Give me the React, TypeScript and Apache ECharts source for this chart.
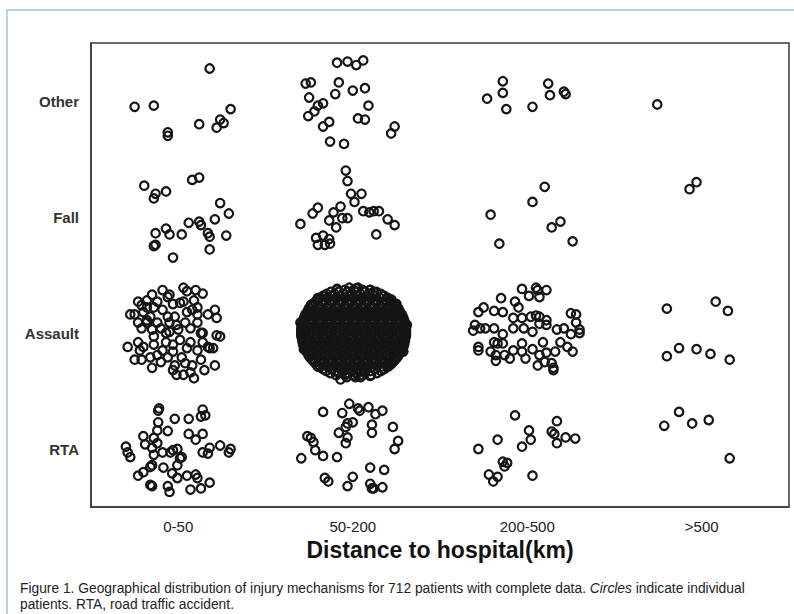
import React, { useEffect, useRef } from "react";
import * as echarts from "echarts";

const distanceBands = ["0-50", "50-200", "200-500", ">500"];
const mechanisms = ["RTA", "Assault", "Fall", "Other"];
const axisTitle = "Distance to hospital(km)";
const captionStart = "Figure 1. Geographical distribution of injury mechanisms for 712 patients with complete data. ";
const captionItalic = "Circles";
const captionEnd = " indicate individual";
const captionLine2 = "patients. RTA, road traffic accident.";

// [distance position (jittered), mechanism position (jittered)]
const otherPoints: [number, number][] = [
  [0.18, 3.28], [-0.25, 2.95], [-0.14, 2.96], [-0.06, 2.73], [-0.06, 2.7], [0.12, 2.8], [0.24, 2.84], [0.26, 2.81], [0.22, 2.77], [0.3, 2.93],
  [0.91, 3.33], [0.97, 3.34], [1.02, 3.31], [1.06, 3.35], [0.73, 3.15], [0.76, 3.16], [0.92, 3.16], [0.9, 3.06], [1.0, 3.09], [1.07, 3.11],
  [0.75, 3.03], [0.83, 2.98], [0.8, 2.96], [0.78, 2.91], [0.745, 2.87], [1.09, 2.96], [0.865, 2.82], [0.83, 2.78], [1.03, 2.85], [1.07, 2.84],
  [1.24, 2.78], [1.22, 2.72], [0.87, 2.65], [0.95, 2.63],
  [1.86, 3.17], [1.86, 3.07], [1.77, 3.02], [1.88, 2.93], [2.03, 2.95], [2.12, 3.15], [2.13, 3.05], [2.21, 3.08], [2.22, 3.06],
  [2.745, 2.97],
];

const fallPoints: [number, number][] = [
  [-0.195, 2.27], [-0.13, 2.2], [-0.14, 2.16], [-0.07, 2.22], [0.08, 2.32], [0.12, 2.34], [0.24, 2.12], [0.29, 2.03], [0.21, 1.98], [0.06, 1.95],
  [0.12, 1.96], [0.13, 1.93], [0.17, 1.86], [0.18, 1.83], [0.275, 1.84], [-0.13, 1.86], [-0.07, 1.9], [-0.05, 1.85], [0.02, 1.85], [-0.13, 1.76],
  [-0.14, 1.75], [0.18, 1.72], [-0.03, 1.65],
  [0.96, 2.4], [0.97, 2.31], [0.99, 2.2], [1.05, 2.2], [1.01, 2.13], [0.8, 2.08], [0.77, 2.03], [0.89, 2.04], [0.93, 2.09], [0.7, 1.94],
  [0.865, 1.97], [0.94, 1.99], [0.97, 1.99], [0.905, 1.91], [1.06, 2.05], [1.095, 2.04], [1.12, 2.05], [1.15, 2.05], [1.2, 1.98], [1.24, 1.93],
  [1.135, 1.85], [0.79, 1.82], [0.83, 1.84], [0.865, 1.81], [0.8, 1.76], [0.84, 1.76], [0.87, 1.77],
  [2.1, 2.26], [2.03, 2.13], [1.79, 2.02], [2.19, 1.96], [2.14, 1.91], [2.26, 1.79], [1.84, 1.77],
  [2.97, 2.3], [2.93, 2.24],
];

const assaultPoints: [number, number][] = [
  // 0-50
  [-0.09, 1.37], [0.03, 1.39], [0.05, 1.36], [0.1, 1.37], [0.14, 1.34], [-0.15, 1.33], [-0.06, 1.31], [-0.18, 1.28], [-0.12, 1.27], [-0.23, 1.27],
  [-0.21, 1.24], [-0.03, 1.25], [0.01, 1.26], [0.09, 1.28], [0.11, 1.22], [-0.275, 1.16], [-0.25, 1.16], [-0.2, 1.18], [-0.14, 1.22], [-0.09, 1.2],
  [-0.06, 1.14], [0.05, 1.18], [0.08, 1.2], [0.11, 1.16], [0.17, 1.16], [0.21, 1.2], [0.22, 1.13], [-0.23, 1.09], [-0.18, 1.11], [-0.12, 1.09],
  [-0.05, 1.09], [-0.01, 1.07], [0.04, 1.09], [0.11, 1.09], [-0.21, 1.04], [-0.15, 1.03], [-0.1, 1.04], [-0.05, 1.01], [0.0, 1.03], [0.07, 1.04],
  [0.13, 1.0], [0.22, 0.98], [0.24, 0.97], [-0.29, 0.88], [-0.23, 0.92], [-0.2, 0.88], [-0.14, 0.9], [-0.07, 0.92], [-0.03, 0.9], [-0.09, 0.85],
  [-0.03, 0.84], [0.05, 0.87], [0.11, 0.85], [0.14, 0.92], [0.17, 0.88], [0.2, 0.87], [-0.25, 0.77], [-0.21, 0.77], [-0.16, 0.79], [-0.12, 0.81],
  [-0.15, 0.7], [-0.06, 0.79], [0.02, 0.79], [0.04, 0.74], [0.08, 0.72], [-0.01, 0.64], [0.03, 0.64], [0.07, 0.66], [0.09, 0.61], [0.21, 0.72],
  [-0.05, 1.33], [-0.18, 1.22], [0.03, 1.27], [-0.16, 1.14], [-0.02, 1.14], [-0.18, 1.09], [-0.07, 1.0], [-0.14, 0.97], [0.01, 0.94], [0.07, 0.92],
  [0.18, 0.87], [-0.22, 0.85], [0.14, 1.0], [-0.1, 0.75], [-0.02, 0.72], [0.13, 0.77], [-0.03, 0.68], [0.15, 0.68],
  // 50-200, edge circles of the dense cluster
  [0.91, 1.38], [1.02, 1.385], [1.1, 1.37], [0.8, 1.3], [1.22, 1.29], [0.7, 1.09], [1.31, 1.07], [0.72, 0.86], [1.29, 0.84],
  [0.76, 1.24], [1.25, 1.25], [0.8, 0.71], [1.21, 0.72], [0.93, 0.6], [1.1, 0.63],
  // 200-500
  [1.97, 1.38], [2.05, 1.39], [2.06, 1.37], [2.11, 1.37], [2.01, 1.32], [2.07, 1.31], [1.85, 1.3], [1.93, 1.27], [1.95, 1.22], [1.75, 1.22],
  [1.81, 1.19], [1.86, 1.18], [1.72, 1.18], [1.92, 1.13], [1.97, 1.13], [2.02, 1.14], [2.05, 1.15], [2.07, 1.14], [2.11, 1.11], [2.25, 1.17],
  [2.28, 1.16], [2.07, 1.08], [2.11, 1.07], [2.28, 1.09], [1.7, 1.07], [1.73, 1.04], [1.76, 1.04], [1.81, 1.04], [1.69, 1.02], [1.92, 1.04],
  [1.98, 1.04], [2.03, 1.01], [2.17, 1.03], [2.21, 1.04], [2.3, 1.03], [2.25, 0.99], [2.3, 1.0], [1.86, 0.99], [1.81, 0.92], [1.83, 0.91],
  [1.86, 0.91], [1.97, 0.91], [2.09, 0.92], [2.19, 0.92], [1.72, 0.88], [1.72, 0.85], [1.79, 0.84], [1.82, 0.81], [1.87, 0.81], [1.92, 0.85],
  [1.97, 0.84], [2.03, 0.86], [2.07, 0.81], [2.11, 0.83], [2.16, 0.84], [2.23, 0.88], [2.26, 0.84], [1.82, 0.76], [1.9, 0.78], [1.99, 0.78],
  [2.06, 0.72], [2.1, 0.75], [2.14, 0.74], [2.15, 0.7], [2.15, 0.68],
  // >500
  [2.8, 1.21], [3.08, 1.27], [3.15, 1.19], [2.8, 0.8], [2.87, 0.87], [2.97, 0.86], [3.05, 0.82], [3.16, 0.77],
];

// 50-200 assault cluster (too dense to separate), read row by row: [mechanism position, distance positions]
const assaultDenseRows: [number, number[]][] = [
  [1.39, [0.98, 1.03]],
  [1.3725, [0.91, 0.955, 1.005, 1.055, 1.1]],
  [1.355, [0.875, 0.92, 0.97, 1.02, 1.07, 1.12, 1.135]],
  [1.3375, [0.85, 0.895, 0.945, 0.995, 1.045, 1.095, 1.16]],
  [1.32, [0.83, 0.88, 0.93, 0.98, 1.03, 1.08, 1.13, 1.18]],
  [1.3025, [0.81, 0.855, 0.905, 0.955, 1.005, 1.055, 1.105, 1.155, 1.2]],
  [1.285, [0.795, 0.84, 0.89, 0.94, 0.99, 1.04, 1.09, 1.14, 1.19, 1.215]],
  [1.2675, [0.785, 0.83, 0.88, 0.93, 0.98, 1.03, 1.08, 1.13, 1.18, 1.225]],
  [1.25, [0.77, 0.82, 0.87, 0.92, 0.97, 1.02, 1.07, 1.12, 1.17, 1.22, 1.24]],
  [1.2325, [0.76, 0.805, 0.855, 0.905, 0.955, 1.005, 1.055, 1.105, 1.155, 1.205, 1.25]],
  [1.215, [0.75, 0.8, 0.85, 0.9, 0.95, 1.0, 1.05, 1.1, 1.15, 1.2, 1.25, 1.26]],
  [1.1975, [0.745, 0.79, 0.84, 0.89, 0.94, 0.99, 1.04, 1.09, 1.14, 1.19, 1.24, 1.265]],
  [1.18, [0.74, 0.785, 0.835, 0.885, 0.935, 0.985, 1.035, 1.085, 1.135, 1.185, 1.235, 1.27]],
  [1.1625, [0.73, 0.78, 0.83, 0.88, 0.93, 0.98, 1.03, 1.08, 1.13, 1.18, 1.23, 1.28]],
  [1.145, [0.725, 0.77, 0.82, 0.87, 0.92, 0.97, 1.02, 1.07, 1.12, 1.17, 1.22, 1.27, 1.285]],
  [1.1275, [0.72, 0.765, 0.815, 0.865, 0.915, 0.965, 1.015, 1.065, 1.115, 1.165, 1.215, 1.265, 1.29]],
  [1.11, [0.716, 0.76, 0.81, 0.86, 0.91, 0.96, 1.01, 1.06, 1.11, 1.16, 1.21, 1.26, 1.294]],
  [1.0925, [0.712, 0.755, 0.805, 0.855, 0.905, 0.955, 1.005, 1.055, 1.105, 1.155, 1.205, 1.255, 1.298]],
  [1.075, [0.71, 0.76, 0.81, 0.86, 0.91, 0.96, 1.01, 1.06, 1.11, 1.16, 1.21, 1.26, 1.3]],
  [1.0575, [0.707, 0.735, 0.785, 0.835, 0.885, 0.935, 0.985, 1.035, 1.085, 1.135, 1.185, 1.235, 1.285, 1.303]],
  [1.04, [0.705, 0.755, 0.805, 0.855, 0.905, 0.955, 1.005, 1.055, 1.105, 1.155, 1.205, 1.255, 1.305]],
  [1.0225, [0.705, 0.73, 0.78, 0.83, 0.88, 0.93, 0.98, 1.03, 1.08, 1.13, 1.18, 1.23, 1.28, 1.305]],
  [1.005, [0.705, 0.755, 0.805, 0.855, 0.905, 0.955, 1.005, 1.055, 1.105, 1.155, 1.205, 1.255, 1.305]],
  [0.9875, [0.705, 0.73, 0.78, 0.83, 0.88, 0.93, 0.98, 1.03, 1.08, 1.13, 1.18, 1.23, 1.28, 1.305]],
  [0.97, [0.706, 0.755, 0.805, 0.855, 0.905, 0.955, 1.005, 1.055, 1.105, 1.155, 1.205, 1.255, 1.304]],
  [0.9525, [0.71, 0.735, 0.785, 0.835, 0.885, 0.935, 0.985, 1.035, 1.085, 1.135, 1.185, 1.235, 1.285, 1.3]],
  [0.935, [0.711, 0.76, 0.81, 0.86, 0.91, 0.96, 1.01, 1.06, 1.11, 1.16, 1.21, 1.26, 1.299]],
  [0.9175, [0.714, 0.74, 0.79, 0.84, 0.89, 0.94, 0.99, 1.04, 1.09, 1.14, 1.19, 1.24, 1.296]],
  [0.9, [0.716, 0.765, 0.815, 0.865, 0.915, 0.965, 1.015, 1.065, 1.115, 1.165, 1.215, 1.265, 1.294]],
  [0.8825, [0.72, 0.745, 0.795, 0.845, 0.895, 0.945, 0.995, 1.045, 1.095, 1.145, 1.195, 1.245, 1.29]],
  [0.865, [0.725, 0.775, 0.825, 0.875, 0.925, 0.975, 1.025, 1.075, 1.125, 1.175, 1.225, 1.275, 1.285]],
  [0.8475, [0.73, 0.755, 0.805, 0.855, 0.905, 0.955, 1.005, 1.055, 1.105, 1.155, 1.205, 1.255, 1.28]],
  [0.83, [0.74, 0.785, 0.835, 0.885, 0.935, 0.985, 1.035, 1.085, 1.135, 1.185, 1.235, 1.27]],
  [0.8125, [0.745, 0.765, 0.815, 0.865, 0.915, 0.965, 1.015, 1.065, 1.115, 1.165, 1.215, 1.265]],
  [0.795, [0.752, 0.795, 0.845, 0.895, 0.945, 0.995, 1.045, 1.095, 1.145, 1.195, 1.245, 1.258]],
  [0.7775, [0.762, 0.815, 0.865, 0.915, 0.965, 1.015, 1.065, 1.115, 1.165, 1.215, 1.248]],
  [0.76, [0.772, 0.82, 0.87, 0.92, 0.97, 1.02, 1.07, 1.12, 1.17, 1.22, 1.238]],
  [0.7425, [0.783, 0.835, 0.885, 0.935, 0.985, 1.035, 1.085, 1.135, 1.185, 1.227]],
  [0.725, [0.796, 0.845, 0.895, 0.945, 0.995, 1.045, 1.095, 1.145, 1.195, 1.214]],
  [0.7075, [0.811, 0.86, 0.91, 0.96, 1.01, 1.06, 1.11, 1.16, 1.199]],
  [0.69, [0.829, 0.88, 0.93, 0.98, 1.03, 1.08, 1.13, 1.181]],
  [0.6725, [0.848, 0.9, 0.95, 1.0, 1.05, 1.1, 1.162]],
  [0.655, [0.872, 0.92, 0.97, 1.02, 1.07, 1.138]],
  [0.6375, [0.905, 0.955, 1.005, 1.055, 1.105]],
  [0.62, [0.965, 1.015, 1.045]],
];

const rtaPoints: [number, number][] = [
  // 0-50
  [-0.11, 0.35], [-0.115, 0.33], [-0.02, 0.26], [0.06, 0.26], [0.13, 0.28], [0.14, 0.34], [0.155, 0.29], [-0.115, 0.23], [-0.12, 0.16], [-0.06, 0.155],
  [0.06, 0.13], [0.14, 0.13], [0.1, 0.08], [-0.2, 0.11], [-0.14, 0.095], [-0.19, 0.04], [-0.12, 0.05], [-0.3, 0.02], [-0.29, -0.03], [-0.275, -0.07],
  [-0.15, 0.01], [-0.14, -0.05], [-0.03, -0.01], [-0.005, 0.0], [0.01, -0.08], [0.02, -0.07], [-0.09, -0.03], [-0.045, -0.03], [0.14, -0.03], [0.17, -0.04],
  [0.18, 0.01], [0.24, 0.03], [0.3, 0.0], [0.29, -0.03], [-0.15, -0.14], [-0.16, -0.155], [-0.005, -0.14], [-0.085, -0.16], [-0.2, -0.2], [-0.23, -0.23],
  [-0.035, -0.21], [-0.005, -0.25], [0.05, -0.23], [0.1, -0.22], [0.11, -0.25], [-0.16, -0.31], [-0.15, -0.32], [-0.06, -0.32], [-0.05, -0.37], [0.07, -0.35],
  [0.13, -0.34], [0.18, -0.29],
  // 50-200
  [0.83, 0.32], [0.94, 0.31], [0.98, 0.39], [1.03, 0.35], [1.04, 0.33], [1.09, 0.36], [1.13, 0.3], [1.17, 0.33], [0.97, 0.22], [1.0, 0.23],
  [0.96, 0.19], [1.11, 0.21], [1.11, 0.14], [1.23, 0.19], [0.92, 0.14], [0.97, 0.1], [0.96, 0.05], [1.26, 0.07], [1.24, 0.0], [0.74, 0.11],
  [0.76, 0.095], [0.775, 0.06], [0.785, -0.01], [0.83, -0.06], [0.91, -0.07], [0.705, -0.08], [1.1, -0.16], [1.18, -0.18], [0.84, -0.25], [0.86, -0.28],
  [1.0, -0.24], [0.97, -0.32], [1.1, -0.3], [1.12, -0.34], [1.11, -0.34], [1.17, -0.33],
  // 200-500
  [1.93, 0.29], [2.17, 0.24], [2.01, 0.16], [2.14, 0.15], [2.155, 0.13], [2.22, 0.1], [2.275, 0.09], [2.02, 0.08], [1.83, 0.08], [2.17, 0.05],
  [1.97, 0.02], [1.72, 0.0], [1.86, -0.11], [1.885, -0.12], [1.87, -0.15], [1.78, -0.22], [1.83, -0.24], [1.805, -0.28], [2.03, -0.23],
  // >500
  [2.87, 0.32], [2.785, 0.2], [2.945, 0.22], [3.04, 0.25], [3.16, -0.08],
];

const FONT = '"Liberation Sans", Arial, Helvetica, sans-serif';
const INK = "#3a3a3a";

export default function App() {
  const ref = useRef<HTMLDivElement>(null);

  useEffect(() => {
    if (!ref.current) return;
    const chart = echarts.init(ref.current, undefined, { renderer: "svg" });

    const denseAssault: [number, number][] = assaultDenseRows.flatMap(([y, xs]) =>
      xs.map((x) => [x, y] as [number, number])
    );

    const marker = {
      type: "scatter" as const,
      xAxisIndex: 1,
      yAxisIndex: 1,
      symbol: "circle",
      symbolSize: 8.5,
      silent: true,
      itemStyle: { color: "rgba(0,0,0,0)", borderColor: "#151515", borderWidth: 2.2, opacity: 1 },
    };

    chart.setOption({
      animation: false,
      backgroundColor: "#ffffff",
      grid: {
        left: 91,
        top: 43,
        right: 5,
        bottom: 107,
        show: true,
        borderColor: INK,
        borderWidth: 1.5,
        backgroundColor: "transparent",
      },
      xAxis: [
        {
          type: "category",
          data: distanceBands,
          boundaryGap: true,
          axisLine: { onZero: false, lineStyle: { color: INK, width: 1.5 } },
          axisTick: { alignWithLabel: true, length: 10, lineStyle: { color: INK, width: 1.5 } },
          axisLabel: { fontSize: 15, color: "#222", margin: 12, fontFamily: FONT },
          splitLine: { show: false },
        },
        { type: "value", min: -0.5, max: 3.5, show: false, axisLine: { onZero: false }, splitLine: { show: false } },
      ],
      yAxis: [
        {
          type: "category",
          data: mechanisms,
          boundaryGap: true,
          axisLine: { onZero: false, lineStyle: { color: INK, width: 1.5 } },
          axisTick: { alignWithLabel: true, length: 11, lineStyle: { color: INK, width: 1.5 } },
          axisLabel: { fontSize: 15, fontWeight: "bold", color: "#333", margin: 12, fontFamily: FONT },
          splitLine: { show: false },
        },
        { type: "value", min: -0.5, max: 3.5, show: false, axisLine: { onZero: false }, splitLine: { show: false } },
      ],
      graphic: [
        {
          type: "rect",
          shape: { x: 7, y: 10, width: 820, height: 640 },
          style: { fill: "none", stroke: "#9cc3e6", lineWidth: 1.5 },
          silent: true,
          z: 0,
        },
        {
          type: "text",
          x: 440,
          y: 550,
          style: {
            text: axisTitle,
            font: `bold 23px ${FONT}`,
            fill: "#111",
            align: "center",
            verticalAlign: "middle",
          },
        },
        {
          type: "text",
          x: 20,
          y: 588,
          style: {
            text: `{n|${captionStart}}{i|${captionItalic}}{n|${captionEnd}}`,
            fontSize: 13.8,
            fontFamily: FONT,
            fill: "#222",
            verticalAlign: "middle",
            rich: {
              n: { fontSize: 13.8, fontFamily: FONT, fill: "#222" },
              i: { fontSize: 13.8, fontFamily: FONT, fontStyle: "italic", fill: "#222" },
            },
          },
        },
        {
          type: "text",
          x: 20,
          y: 604,
          style: {
            text: captionLine2,
            fontSize: 13.8,
            fontFamily: FONT,
            fill: "#222",
            verticalAlign: "middle",
          },
        },
      ],
      series: [
        { ...marker, name: "RTA", data: rtaPoints },
        { ...marker, name: "Assault", data: assaultPoints.concat(denseAssault) },
        { ...marker, name: "Fall", data: fallPoints },
        { ...marker, name: "Other", data: otherPoints },
      ],
    });

    return () => chart.dispose();
  }, []);

  return (
    <div
      ref={ref}
      style={{ position: "absolute", left: 0, top: 0, width: 794, height: 614, background: "#fff" }}
    />
  );
}
